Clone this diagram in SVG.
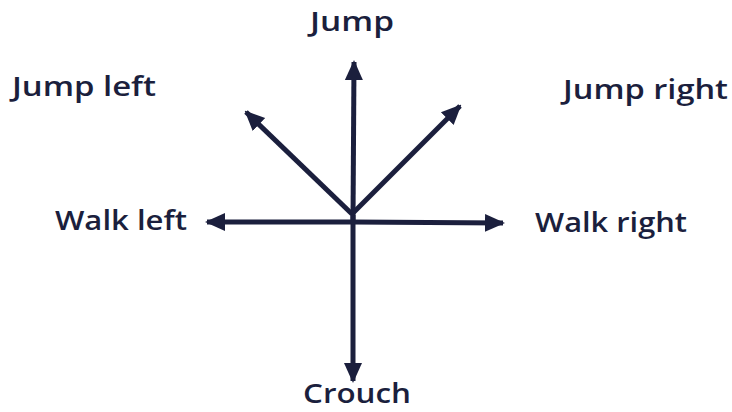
<svg xmlns="http://www.w3.org/2000/svg" width="732" height="412" viewBox="0 0 732 412">
<style>
.lbl{font-family:"Open Sans","Liberation Sans",sans-serif;font-weight:600;font-size:27px;fill:#1b1f3d}
.ar{stroke:#1b1f3d;stroke-width:5;fill:none;marker-end:url(#ah)}
</style>
<defs>
<marker id="ah" markerUnits="userSpaceOnUse" markerWidth="20" markerHeight="20" viewBox="0 0 20 20" refX="18" refY="10" orient="auto">
<path d="M0,1 L20,10 L0,19 Z" fill="#1b1f3d"/>
</marker>
</defs>
<rect width="732" height="412" fill="#ffffff"/>
<g id="connectors">
<line class="ar" x1="353" y1="220" x2="354" y2="62"/>
<line class="ar" x1="353" y1="215" x2="353" y2="381"/>
<line class="ar" x1="352" y1="214" x2="246" y2="112"/>
<line class="ar" x1="352" y1="214" x2="460" y2="106"/>
<line class="ar" x1="353" y1="222" x2="207" y2="222"/>
<line class="ar" x1="353" y1="222" x2="503" y2="223"/>
</g>
<g id="jump"><text class="lbl" x="310" y="31" textLength="84" lengthAdjust="spacingAndGlyphs">Jump</text></g>
<g id="jump-left"><text class="lbl" x="12" y="96" textLength="144" lengthAdjust="spacingAndGlyphs">Jump left</text></g>
<g id="jump-right"><text class="lbl" x="563" y="99" textLength="165" lengthAdjust="spacingAndGlyphs">Jump right</text></g>
<g id="walk-left"><text class="lbl" x="55" y="230" textLength="132" lengthAdjust="spacingAndGlyphs">Walk left</text></g>
<g id="walk-right"><text class="lbl" x="535" y="232" textLength="152" lengthAdjust="spacingAndGlyphs">Walk right</text></g>
<g id="crouch"><text class="lbl" x="303" y="403" font-size="26" textLength="108" lengthAdjust="spacingAndGlyphs">Crouch</text></g>
</svg>
